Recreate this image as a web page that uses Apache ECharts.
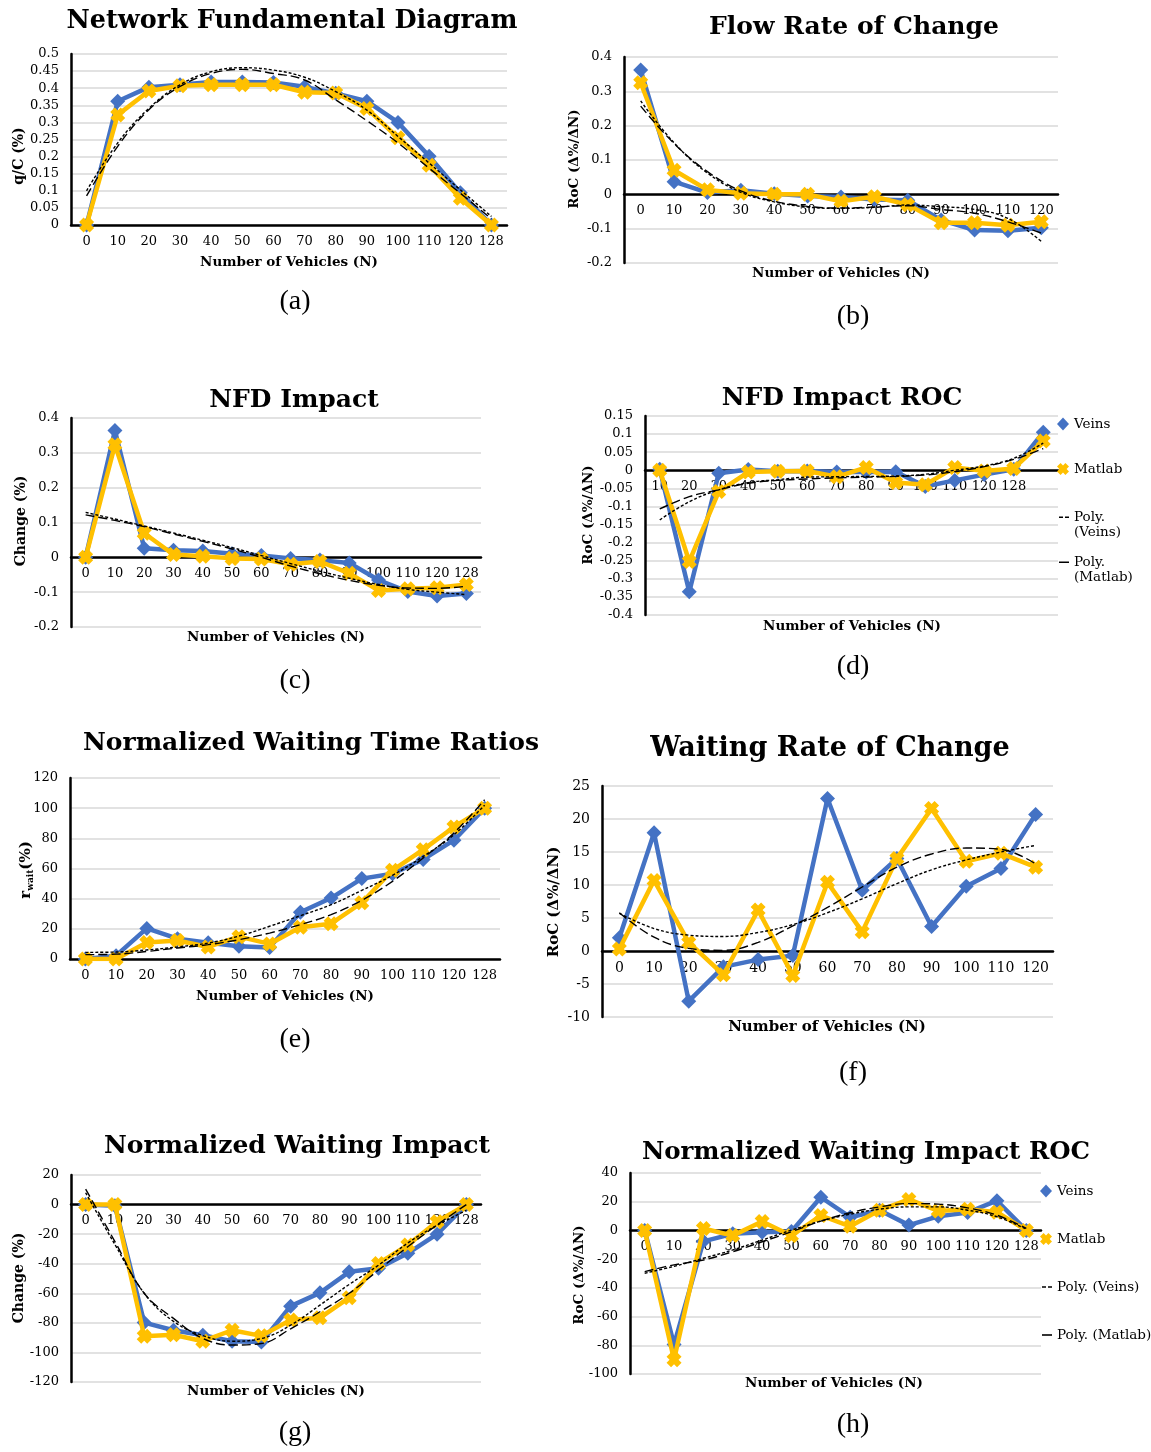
<!DOCTYPE html>
<html>
<head>
<meta charset="utf-8">
<script src="https://cdn.jsdelivr.net/npm/echarts@6/dist/echarts.min.js"></script>
<style>
  html, body { margin: 0; padding: 0; background: #fff; }
  #chart { width: 1151px; height: 1452px; }
</style>
</head>
<body>
<div id="chart"></div>
<script>
// ---- categories (number of vehicles) ----
const vehicles128 = ['0', '10', '20', '30', '40', '50', '60', '70', '80', '90', '100', '110', '120', '128'];
const vehicles120 = ['0', '10', '20', '30', '40', '50', '60', '70', '80', '90', '100', '110', '120'];
const vehiclesRoc = ['10', '20', '30', '40', '50', '60', '70', '80', '90', '100', '110', '120', '128', ''];

// (a) Network Fundamental Diagram, q/C
const nfdVeins = [0, 0.362, 0.403, 0.41, 0.418, 0.418, 0.417, 0.404, 0.385, 0.362, 0.300, 0.201, 0.094, 0];
const nfdMatlab = [0, 0.322, 0.392, 0.407, 0.41, 0.41, 0.41, 0.388, 0.386, 0.341, 0.255, 0.175, 0.078, 0];
const nfdPolyVeins = [0.10, 0.24, 0.341, 0.41, 0.448, 0.46, 0.453, 0.432, 0.39, 0.336, 0.259, 0.181, 0.103, 0.025];
const nfdPolyMatlab = [0.085, 0.23, 0.337, 0.405, 0.443, 0.455, 0.443, 0.424, 0.366, 0.305, 0.24, 0.166, 0.093, 0.018];

// (b) Flow rate of change
const flowRocVeins = [0.362, 0.037, 0.005, 0.012, 0.002, -0.005, -0.008, -0.015, -0.017, -0.075, -0.104, -0.106, -0.097];
const flowRocMatlab = [0.325, 0.07, 0.013, 0.003, 0.0, 0.0, -0.02, -0.007, -0.03, -0.083, -0.083, -0.09, -0.08];
const flowRocPolyVeins = [0.272, 0.15, 0.062, 0.006, -0.022, -0.037, -0.041, -0.038, -0.031, -0.036, -0.044, -0.07, -0.137];
const flowRocPolyMatlab = [0.257, 0.148, 0.066, 0.01, -0.02, -0.035, -0.04, -0.037, -0.033, -0.044, -0.055, -0.08, -0.113];

// (c) NFD impact
const nfdImpactVeins = [0, 0.364, 0.026, 0.02, 0.018, 0.01, 0.005, -0.003, -0.008, -0.016, -0.065, -0.098, -0.111, -0.104];
const nfdImpactMatlab = [0, 0.323, 0.069, 0.008, 0.003, -0.003, -0.005, -0.02, -0.012, -0.046, -0.095, -0.09, -0.087, -0.078];
const nfdImpactPolyVeins = [0.129, 0.11, 0.09, 0.07, 0.049, 0.028, 0.005, -0.018, -0.04, -0.06, -0.078, -0.092, -0.1, -0.107];
const nfdImpactPolyMatlab = [0.122, 0.106, 0.088, 0.067, 0.046, 0.024, 0.0, -0.025, -0.047, -0.066, -0.08, -0.088, -0.089, -0.083];

// (d) NFD impact rate of change
const nfdRocVeins = [0.003, -0.336, -0.008, 0.002, -0.003, -0.002, -0.005, -0.005, -0.004, -0.045, -0.028, -0.012, 0.003, 0.105];
const nfdRocMatlab = [0.0, -0.252, -0.059, -0.005, -0.003, -0.002, -0.018, 0.008, -0.034, -0.04, 0.008, -0.002, 0.005, 0.081];
const nfdRocPolyVeins = [-0.137, -0.087, -0.054, -0.034, -0.026, -0.019, -0.018, -0.017, -0.016, -0.011, 0.0, 0.012, 0.033, 0.075];
const nfdRocPolyMatlab = [-0.107, -0.073, -0.054, -0.036, -0.028, -0.024, -0.021, -0.019, -0.017, -0.013, -0.004, 0.01, 0.03, 0.06];

// (e) Normalized waiting time ratios
const waitVeins = [0, 2.2, 20.3, 13.5, 10.8, 8.4, 7.7, 31, 40.4, 53.3, 56.5, 66, 78.8, 100];
const waitMatlab = [0, 0, 11, 12.3, 8, 14.8, 10, 21, 23.4, 37.3, 58.8, 72.5, 87.5, 100];
const waitPolyVeins = [4.4, 4.6, 6, 8, 10.6, 15.2, 21.7, 28.7, 36, 45.5, 55.5, 68, 82.4, 102];
const waitPolyMatlab = [2.9, 3.2, 5, 7.3, 9.5, 12.8, 17.2, 22.8, 29.4, 38.9, 51.5, 67, 83.6, 105.6];

// (f) Waiting rate of change
const waitRocVeins = [2.0, 17.9, -7.6, -2.4, -1.3, -0.7, 23.1, 9.2, 14.0, 3.7, 9.8, 12.5, 20.7];
const waitRocMatlab = [0.3, 10.7, 1.3, -3.6, 6.2, -3.7, 10.4, 2.9, 14.0, 21.6, 13.6, 14.8, 12.7];
const waitRocPolyVeins = [5.7, 3.4, 2.4, 2.2, 2.8, 4.0, 5.8, 7.9, 10.2, 12.3, 13.8, 15.0, 16.0];
const waitRocPolyMatlab = [5.8, 2.1, 0.4, 0.1, 1.3, 3.8, 6.6, 9.7, 12.7, 14.7, 15.6, 15.4, 13.2];

// (g) Normalized waiting impact
const waitImpactVeins = [0, -0.8, -79.8, -85, -88.4, -92.4, -93, -68.7, -59.7, -45.5, -43, -33, -20, 0];
const waitImpactMatlab = [0, 0, -89, -88, -92.4, -85, -88.8, -78, -76.6, -63, -39.8, -27.4, -11.6, 0];
const waitImpactPolyVeins = [8, -27, -60, -79, -88.6, -92.4, -90.6, -81.6, -68, -54, -41, -26, -14, -4];
const waitImpactPolyMatlab = [10.5, -25, -60, -77, -90.5, -95, -94, -84, -72.5, -60, -44.3, -28.5, -13.8, 0];

// (h) Normalized waiting impact rate of change
const waitImpRocVeins = [0, -79.5, -7.6, -2.4, -1.3, -0.7, 23.1, 9.2, 14.0, 3.7, 9.8, 12.5, 20.7, 0];
const waitImpRocMatlab = [0, -90, 1.3, -3.6, 6.2, -3.7, 10.4, 2.9, 14.0, 21.6, 13.6, 14.8, 12.7, 0];
const waitImpRocPolyVeins = [-29.8, -25, -19.4, -13.6, -6.7, 0.2, 6.5, 11.3, 14.8, 16.4, 16.4, 14.1, 9.5, 0.9];
const waitImpRocPolyMatlab = [-28.7, -24, -20.6, -14.8, -7.9, -0.9, 6.5, 12.3, 16.4, 18.7, 18.3, 15.7, 10.6, 1.4];

// ---- panel definitions ----
const panels = [
  { cats: vehicles128, v: nfdVeins, m: nfdMatlab, pv: nfdPolyVeins, pm: nfdPolyMatlab, min: 0, max: 0.5, interval: 0.05 },
  { cats: vehicles120, v: flowRocVeins, m: flowRocMatlab, pv: flowRocPolyVeins, pm: flowRocPolyMatlab, min: -0.2, max: 0.4, interval: 0.1 },
  { cats: vehicles128, v: nfdImpactVeins, m: nfdImpactMatlab, pv: nfdImpactPolyVeins, pm: nfdImpactPolyMatlab, min: -0.2, max: 0.4, interval: 0.1 },
  { cats: vehiclesRoc, v: nfdRocVeins, m: nfdRocMatlab, pv: nfdRocPolyVeins, pm: nfdRocPolyMatlab, min: -0.4, max: 0.15, interval: 0.05 },
  { cats: vehicles128, v: waitVeins, m: waitMatlab, pv: waitPolyVeins, pm: waitPolyMatlab, min: 0, max: 120, interval: 20 },
  { cats: vehicles120, v: waitRocVeins, m: waitRocMatlab, pv: waitRocPolyVeins, pm: waitRocPolyMatlab, min: -10, max: 25, interval: 5, font: 14 },
  { cats: vehicles128, v: waitImpactVeins, m: waitImpactMatlab, pv: waitImpactPolyVeins, pm: waitImpactPolyMatlab, min: -120, max: 20, interval: 20 },
  { cats: vehicles128, v: waitImpRocVeins, m: waitImpRocMatlab, pv: waitImpRocPolyVeins, pm: waitImpRocPolyMatlab, min: -100, max: 40, interval: 20 }
];

const gridBoxes = [
  { left: 71, top: 54, width: 436, height: 171 },
  { left: 624, top: 57, width: 434, height: 206 },
  { left: 71, top: 418, width: 410, height: 209 },
  { left: 645, top: 416, width: 413, height: 199 },
  { left: 70, top: 778, width: 430, height: 181 },
  { left: 602, top: 786, width: 451, height: 231 },
  { left: 71, top: 1175, width: 410, height: 207 },
  { left: 630, top: 1173, width: 411, height: 201 }
];

const SERIF = '"DejaVu Serif", "Liberation Serif", serif';
const BLUE = '#4472C4';
const GOLD = '#FFC000';
const CROSS = 'path://M0,3 L3,0 L5,2 L7,0 L10,3 L8,5 L10,7 L7,10 L5,8 L3,10 L0,7 L2,5 Z';
// legend keys for the trend lines; the far point keeps the dash at the top of a 16px box
const DASH2 = 'path://M0,0h4v1.6h-4z M6,0h4v1.6h-4z M0,16 L0.01,16';
const DASH1 = 'path://M0,0h10v1.6h-10z M0,16 L0.01,16';
const DASH2S = 'path://M0,0h4v1.6h-4z M6,0h4v1.6h-4z';
const DASH1S = 'path://M0,0h10v1.6h-10z';

const xAxes = [], yAxes = [], series = [];
panels.forEach((p, i) => {
  const fs = p.font || 13;
  const h = gridBoxes[i].height;
  // the category axis sits on the value 0 line
  const zeroLift = p.min < 0 ? -h * (-p.min) / (p.max - p.min) : 0;
  xAxes.push({
    type: 'category', gridIndex: i, data: p.cats, boundaryGap: true, position: 'bottom', offset: zeroLift,
    axisLine: { onZero: false, lineStyle: { color: '#000', width: 2.5 } },
    axisTick: { show: false },
    axisLabel: { interval: 0, margin: 10, color: '#000', fontFamily: SERIF, fontSize: fs },
    splitLine: { show: false }
  });
  yAxes.push({
    type: 'value', gridIndex: i, min: p.min, max: p.max, interval: p.interval,
    axisLine: { show: true, onZero: false, lineStyle: { color: '#000', width: 2.5 } },
    axisTick: { show: false },
    axisLabel: { margin: 12, color: '#000', fontFamily: SERIF, fontSize: fs },
    splitLine: { show: true, lineStyle: { color: '#d9d9d9', width: 1.5 } }
  });
  series.push({
    type: 'line', name: 'Veins', xAxisIndex: i, yAxisIndex: i, data: p.v,
    symbol: 'diamond', symbolSize: 15, lineStyle: { color: BLUE, width: 4.5 },
    itemStyle: { color: BLUE }, z: 2
  });
  series.push({
    type: 'line', name: 'Matlab', xAxisIndex: i, yAxisIndex: i, data: p.m,
    symbol: CROSS, symbolSize: 15, lineStyle: { color: GOLD, width: 4.5 },
    itemStyle: { color: GOLD }, z: 3
  });
  series.push({
    type: 'line', name: 'Poly. (Veins)', xAxisIndex: i, yAxisIndex: i, data: p.pv,
    smooth: 0.4, symbol: 'none', lineStyle: { color: '#000', width: 1.4, type: [3, 2] },
    itemStyle: { color: '#000' }, z: 4, silent: true
  });
  series.push({
    type: 'line', name: 'Poly. (Matlab)', xAxisIndex: i, yAxisIndex: i, data: p.pm,
    smooth: 0.4, symbol: 'none', lineStyle: { color: '#000', width: 1.4, type: [9, 4] },
    itemStyle: { color: '#000' }, z: 4, silent: true
  });
});

// ---- legends beside panels (d) and (h) ----
const legTxt = { fontFamily: SERIF, fontSize: 13.5, color: '#000', lineHeight: 15 };
function legendItem(name, icon, left, top, w, h, extra) {
  return Object.assign({
    data: [{ name: name, icon: icon }], left: left, top: top, orient: 'vertical',
    itemWidth: w, itemHeight: h, selectedMode: false, padding: 0,
    textStyle: Object.assign({}, legTxt)
  }, extra || {});
}
const legends = [
  legendItem('Veins', 'diamond', 1057, 416.5, 12, 13),
  legendItem('Matlab', CROSS, 1057, 461.5, 12, 13),
  legendItem('Poly. (Veins)', DASH2, 1059, 509.5, 10, 16, { formatter: () => 'Poly.\n(Veins)' }),
  legendItem('Poly. (Matlab)', DASH1, 1059, 554.5, 10, 16, { formatter: () => 'Poly.\n(Matlab)' }),
  legendItem('Veins', 'diamond', 1040, 1183.5, 12, 13),
  legendItem('Matlab', CROSS, 1040, 1231.5, 12, 13),
  legendItem('Poly. (Veins)', DASH2S, 1042, 1279.5, 10, 1.6),
  legendItem('Poly. (Matlab)', DASH1S, 1042, 1327.5, 10, 1.6)
];

// ---- text: panel titles, axis names, captions ----
function txt(text, x, y, font, rot) {
  return {
    type: 'text', x: x, y: y, rotation: rot || 0, silent: true,
    style: { text: text, font: font, fill: '#000', align: 'center', verticalAlign: 'middle',
             textAlign: 'center', textVerticalAlign: 'middle' }
  };
}
const TITLE = (s) => 'bold ' + s + 'px ' + SERIF;
const NAME = (s) => 'bold ' + s + 'px ' + SERIF;
const CAP = '28px "Liberation Serif", serif';
const R90 = Math.PI / 2;

const graphics = [
  txt('Network Fundamental Diagram', 292, 21, TITLE(25.5)),
  txt('Flow Rate of Change', 854, 27, TITLE(25)),
  txt('NFD Impact', 294, 400, TITLE(25)),
  txt('NFD Impact ROC', 842, 398, TITLE(25)),
  txt('Normalized Waiting Time Ratios', 311, 743, TITLE(25)),
  txt('Waiting Rate of Change', 830, 749, TITLE(27)),
  txt('Normalized Waiting Impact', 297, 1146, TITLE(25)),
  txt('Normalized Waiting Impact ROC', 866, 1153, TITLE(24.5)),

  txt('Number of Vehicles (N)', 289, 262, NAME(13.5)),
  txt('Number of Vehicles (N)', 841, 273, NAME(13.5)),
  txt('Number of Vehicles (N)', 276, 637, NAME(13.5)),
  txt('Number of Vehicles (N)', 852, 626, NAME(13.5)),
  txt('Number of Vehicles (N)', 285, 996, NAME(13.5)),
  txt('Number of Vehicles (N)', 827, 1027, NAME(15)),
  txt('Number of Vehicles (N)', 276, 1391, NAME(13.5)),
  txt('Number of Vehicles (N)', 834, 1383, NAME(13.5)),

  txt('q/C (%)', 19, 156, NAME(14), R90),
  txt('RoC (Δ%/ΔN)', 574, 159, NAME(13.5), R90),
  txt('Change (%)', 21, 521, NAME(14), R90),
  txt('RoC (Δ%/ΔN)', 588, 515, NAME(13.5), R90),
  {
    type: 'text', x: 26, y: 870, rotation: R90, silent: true,
    style: {
      text: '{r|r}{s|wait}{r|(%)}', fill: '#000',
      align: 'center', verticalAlign: 'middle', textAlign: 'center', textVerticalAlign: 'middle',
      rich: {
        r: { font: NAME(15), lineHeight: 18, verticalAlign: 'middle' },
        s: { font: NAME(9), lineHeight: 18, verticalAlign: 'bottom', padding: [6, 0, 0, 0] }
      }
    }
  },
  txt('RoC (Δ%/ΔN)', 554, 902, NAME(15), R90),
  txt('Change (%)', 19, 1278, NAME(14), R90),
  txt('RoC (Δ%/ΔN)', 579, 1275, NAME(13.5), R90),

  txt('(a)', 295, 302, CAP),
  txt('(b)', 853, 317, CAP),
  txt('(c)', 295, 681, CAP),
  txt('(d)', 853, 667, CAP),
  txt('(e)', 295, 1040, CAP),
  txt('(f)', 853, 1073, CAP),
  txt('(g)', 295, 1433, CAP),
  txt('(h)', 853, 1425, CAP)
];

const chart = echarts.init(document.getElementById('chart'), null, { renderer: 'canvas' });
chart.setOption({
  backgroundColor: '#fff',
  animation: false,
  grid: gridBoxes.map(g => Object.assign({ containLabel: false }, g)),
  xAxis: xAxes,
  yAxis: yAxes,
  legend: legends,
  series: series,
  graphic: graphics
});
</script>
</body>
</html>
